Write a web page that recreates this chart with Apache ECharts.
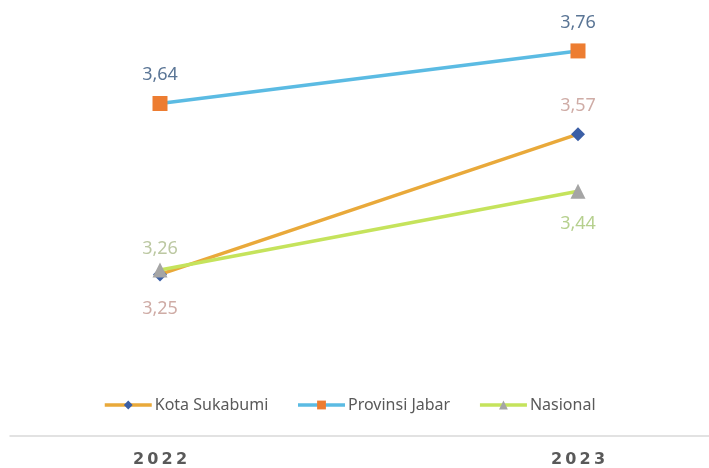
<!DOCTYPE html>
<html><head><meta charset="utf-8">
<script src="https://cdn.jsdelivr.net/npm/echarts@6/dist/echarts.min.js"></script>
<style>html,body{margin:0;padding:0;background:#fff}#c{width:709px;height:468px}</style>
</head><body><div id="c"></div>
<script>
const categories = ['2022', '2023'];
const kotaSukabumi = [3.25, 3.57];
const provinsiJabar = [3.64, 3.76];
const nasional = [3.26, 3.44];

const fmt = p => String(p.value).replace('.', ',');
const font = 'Noto Sans, sans-serif';
const chart = echarts.init(document.getElementById('c'));
chart.setOption({
  animation: false,
  backgroundColor: '#fff',
  textStyle: { fontFamily: font },
  grid: [
    { left: 160, right: 131, top: 33.4, bottom: 83.4 },
    { left: 10, right: 0, top: 33.4, bottom: 32.5 }
  ],
  xAxis: [
    { type: 'category', data: categories, boundaryGap: false, gridIndex: 0,
      axisLine: { show: false }, axisTick: { show: false },
      axisLabel: { show: false }, splitLine: { show: false } },
    { type: 'category', data: categories, gridIndex: 1,
      axisLine: { show: true, lineStyle: { color: '#d9d9d9', width: 1.5 } },
      axisTick: { show: false }, axisLabel: { show: false } },
    { type: 'category', data: categories, boundaryGap: false, gridIndex: 0,
      position: 'bottom', offset: 60,
      axisLine: { show: false }, axisTick: { show: false },
      axisLabel: { show: true, color: '#595959', fontSize: 16, fontWeight: 'bold',
        fontFamily: 'DejaVu Sans, sans-serif', formatter: v => v.split('').join('\u2009') } }
  ],
  yAxis: [
    { type: 'value', min: 3.0, max: 3.8, gridIndex: 0, show: false },
    { type: 'value', gridIndex: 1, show: false }
  ],
  legend: {
    top: 392, left: 98, itemWidth: 47, itemHeight: 11, itemGap: 28,
    lineStyle: { width: 3.5 },
    textStyle: { color: '#595959', fontSize: 16, fontFamily: font, padding: [0, 0, 0, -2] },
    data: ['Kota Sukabumi', 'Provinsi Jabar', 'Nasional']
  },
  series: [
    { name: 'Provinsi Jabar', type: 'line', data: provinsiJabar,
      lineStyle: { color: '#5bbbe3', width: 3.5 },
      itemStyle: { color: '#ed7d31' }, symbol: 'rect', symbolSize: 15,
      label: { show: true, position: 'top', distance: 12, formatter: fmt,
        color: '#5a7595', fontSize: 18, fontFamily: font } },
    { name: 'Kota Sukabumi', type: 'line',
      data: kotaSukabumi.map((v, i) => i === 0 ? { value: v, label: { position: 'bottom', distance: 18 } } : v),
      lineStyle: { color: '#e9a93a', width: 3.5 },
      itemStyle: { color: '#3b5fa6' }, symbol: 'diamond', symbolSize: 14,
      label: { show: true, position: 'top', distance: 12, formatter: fmt,
        color: '#cfaca6', fontSize: 18, fontFamily: font } },
    { name: 'Nasional', type: 'line',
      data: nasional.map((v, i) => i === 1 ? { value: v, label: { position: 'bottom', distance: 16, color: '#b6d08e' } } : v),
      lineStyle: { color: '#c5e35c', width: 3.5 },
      itemStyle: { color: '#a5a5a5' }, symbol: 'triangle', symbolSize: 15,
      label: { show: true, position: 'top', distance: 5, formatter: fmt,
        color: '#bcc8a2', fontSize: 18, fontFamily: font } }
  ]
});
</script></body></html>
